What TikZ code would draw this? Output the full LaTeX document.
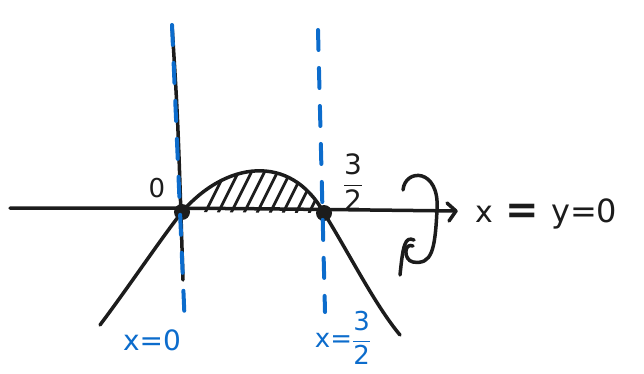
\documentclass[tikz,border=0pt]{standalone}
\usepackage{fontspec}
\usepackage{amsmath}
\setsansfont{DejaVu Sans}
\usetikzlibrary{positioning}
\definecolor{penblue}{RGB}{12,108,204}
\definecolor{penblack}{RGB}{28,28,28}

\begin{document}
\begin{tikzpicture}[x=1pt, y=-1pt,
    ink/.style={draw=penblack, line width=3.5pt, line cap=round, line join=round},
    guide/.style={draw=penblue, line width=4pt, line cap=round, dash pattern=on 20pt off 18pt},
    hatch/.style={draw=penblack, line width=2.8pt, line cap=round},
    dot/.style={circle, fill=penblack, inner sep=0pt, minimum size=16pt},
    lbl/.style={font=\sffamily\fontsize{26}{28}\selectfont, text=penblack, inner sep=1pt},
    bluelbl/.style={lbl, text=penblue}
]
    \useasboundingbox (0,0) rectangle (644,374);

    % axes
    \coordinate (xstart) at (10,208);
    \coordinate (xend) at (456,211);
    \coordinate (ytop) at (172,25);
    \coordinate (ybot) at (183,280);
    \draw[ink] (xstart) .. controls (200,208) .. (xend);
    \draw[ink] (447,203) -- (xend) -- (449,221);
    \draw[ink] (ytop) .. controls (178,120) .. (ybot);

    % region under the curve
    \begin{scope}
        \clip (182,212) .. controls (225,162) and (290,152) .. (324,213) -- cycle;
        \foreach \h in {205,218,...,320}
            \draw[hatch] (\h,213) -- ++(22,-44);
    \end{scope}
    \draw[ink] (182,212) .. controls (225,162) and (290,152) .. (324,213);

    % parabola branches
    \draw[ink] (100,325) .. controls (130,285) and (160,240) .. (182,212);
    \draw[ink] (324,213) .. controls (350,255) and (375,305) .. (400,335);

    % roots
    \node[dot] (o) at (182,212) {};
    \node[dot] (r) at (324,213) {};

    % rotation about the x axis
    \draw[ink] (403,190) .. controls (405,168) and (440,168) .. (437,210)
        .. controls (435,250) and (432,265) .. (413,262)
        .. controls (403,260) and (404,242) .. (413,246);
    \draw[ink] (414,240) .. controls (405,236) and (403,245) .. (400,275);

    % bounds
    \coordinate (atop) at (172,25);
    \coordinate (abot) at (185,328);
    \coordinate (btop) at (318,30);
    \coordinate (bbot) at (325,312);
    \draw[guide] (atop) -- (abot);
    \draw[guide] (btop) -- (bbot);

    % labels
    \node[lbl] (zero) at (157,188) {0};
    \node[lbl, font=\sffamily\fontsize{28}{30}\selectfont] (half) at (353,182) {$\dfrac{\mathsf{3}}{\mathsf{2}}$};
    \node[lbl, font=\sffamily\fontsize{30}{32}\selectfont] (xvar) at (484,214) {x};
    \node[lbl, font=\sffamily\bfseries\fontsize{40}{42}\selectfont, right=10pt of xvar] (eqv) {=};
    \node[lbl, font=\sffamily\fontsize{32}{34}\selectfont, right=10pt of eqv] (yzero) {y=0};
    \node[bluelbl, font=\sffamily\fontsize{28}{30}\selectfont] (ta) at (152,340) {x=0};
    \node[bluelbl, font=\sffamily\fontsize{26}{28}\selectfont] (tb) at (343,338) {x=$\dfrac{\mathsf{3}}{\mathsf{2}}$};
\end{tikzpicture}
\end{document}
